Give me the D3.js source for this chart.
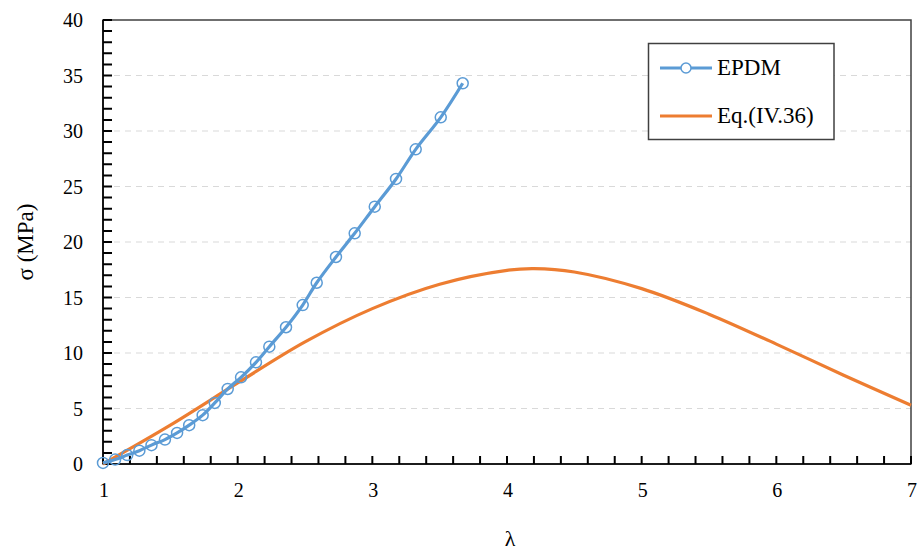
<!DOCTYPE html>
<html><head><meta charset="utf-8">
<script src="https://cdn.jsdelivr.net/npm/d3@7"></script>
<style>body{margin:0;background:#fff}svg{display:block}</style>
</head><body>
<script>
const epdmLambda = [1.00,1.09,1.18,1.27,1.36,1.46,1.55,1.64,1.74,1.83,1.926,2.025,2.136,2.235,2.359,2.483,2.587,2.730,2.869,3.018,3.176,3.322,3.508,3.671];
const epdmSigma  = [0.1,0.4,0.8,1.2,1.7,2.2,2.8,3.5,4.4,5.5,6.76,7.81,9.16,10.57,12.32,14.32,16.33,18.65,20.78,23.18,25.68,28.35,31.23,34.30];
const eqLambda = [1.0,1.5,2.0,2.5,3.0,3.5,4.0,4.2,4.5,5.0,5.5,6.0,6.5,7.0];
const eqSigma  = [0,3.5,7.3,11.0,14.0,16.2,17.45,17.6,17.3,15.8,13.5,10.8,8.0,5.3];
const xTicks = [1,2,3,4,5,6,7];
const yTicks = [0,5,10,15,20,25,30,35,40];
const seriesNames = ["EPDM","Eq.(IV.36)"];

const W=919,H=555;
const svg=d3.select("body").append("svg").attr("width",W).attr("height",H);
const x=d3.scaleLinear().domain([1,7]).range([103,911]);
const y=d3.scaleLinear().domain([0,40]).range([464,20]);
const font="'Liberation Serif', 'DejaVu Serif', serif";

// grid
svg.append("g").selectAll("line").data(yTicks.slice(1,-1)).join("line")
  .attr("x1",x(1)).attr("x2",x(7)).attr("y1",d=>y(d)).attr("y2",d=>y(d))
  .attr("stroke","#d9d9d9").attr("stroke-width",1.2).attr("stroke-dasharray","6,5");

// frame
svg.append("rect").attr("x",x(1)).attr("y",y(40)).attr("width",x(7)-x(1)).attr("height",y(0)-y(40))
  .attr("fill","none").attr("stroke","#404040").attr("stroke-width",1.5);

// minor ticks (inside), drawn as one path
const yMinor=d3.range(0,41,1);
const xMinor=d3.range(0,31).map(i=>1+i*0.2);
const tp=d3.path();
yMinor.forEach(v=>{tp.moveTo(x(1),y(v));tp.lineTo(x(1)+9,y(v));});
xMinor.forEach(v=>{tp.moveTo(x(v),y(0));tp.lineTo(x(v),y(0)-8);});
svg.append("path").attr("d",tp.toString()).attr("fill","none").attr("stroke","#000").attr("stroke-width",2);
svg.append("line").attr("x1",x(1)).attr("x2",x(1)).attr("y1",y(40)).attr("y2",y(0)).attr("stroke","#000").attr("stroke-width",1.6);
svg.append("line").attr("x1",x(1)).attr("x2",x(7)).attr("y1",y(0)).attr("y2",y(0)).attr("stroke","#000").attr("stroke-width",1.6);

// labels
svg.append("g").selectAll("text").data(yTicks).join("text")
  .attr("x",83).attr("y",d=>y(d)+7).attr("text-anchor","end")
  .attr("font-family",font).attr("font-size",20).attr("fill","#000").text(d=>d);
svg.append("g").selectAll("text").data(xTicks).join("text")
  .attr("x",d=>x(d)+1).attr("y",497).attr("text-anchor","middle")
  .attr("font-family",font).attr("font-size",20).attr("fill","#000").text(d=>d);

// axis titles
svg.append("text").attr("x",510).attr("y",546).attr("text-anchor","middle")
  .attr("font-family",font).attr("font-size",22).text("λ");
svg.append("text").attr("transform","translate(33,242) rotate(-90)").attr("text-anchor","middle")
  .attr("font-family",font).attr("font-size",23).text("σ (MPa)");

// eq curve
const eqData=eqLambda.map((l,i)=>[l,eqSigma[i]]);
svg.append("path").datum(eqData).attr("d",d3.line().x(d=>x(d[0])).y(d=>y(d[1])).curve(d3.curveCatmullRom.alpha(0.5)))
  .attr("fill","none").attr("stroke","#ED7D31").attr("stroke-width",3.2);

// EPDM
const epData=epdmLambda.map((l,i)=>[l,epdmSigma[i]]);
svg.append("path").datum(epData).attr("d",d3.line().x(d=>x(d[0])).y(d=>y(d[1])).curve(d3.curveCatmullRom.alpha(0.5)))
  .attr("fill","none").attr("stroke","#5B9BD5").attr("stroke-width",3.2);
svg.append("g").selectAll("circle").data(epData).join("circle")
  .attr("cx",d=>x(d[0])).attr("cy",d=>y(d[1])).attr("r",5.5)
  .attr("fill","none").attr("stroke","#5B9BD5").attr("stroke-width",1.5);

// legend
const lg=svg.append("g");
lg.append("rect").attr("x",648.5).attr("y",43.5).attr("width",185.5).attr("height",96)
  .attr("fill","#fff").attr("stroke","#404040").attr("stroke-width",1.5);
lg.append("line").attr("x1",660).attr("x2",712).attr("y1",68).attr("y2",68).attr("stroke","#5B9BD5").attr("stroke-width",3.2);
lg.append("circle").attr("cx",686).attr("cy",68).attr("r",5).attr("fill","#fff").attr("stroke","#5B9BD5").attr("stroke-width",1.5);
lg.append("line").attr("x1",660).attr("x2",712).attr("y1",116).attr("y2",116).attr("stroke","#ED7D31").attr("stroke-width",3.2);
lg.selectAll("text.lt").data(seriesNames).join("text").attr("class","lt")
  .attr("x",717).attr("y",(d,i)=>75+i*48).attr("font-family",font).attr("font-size",23).text(d=>d);
</script>
</body></html>
